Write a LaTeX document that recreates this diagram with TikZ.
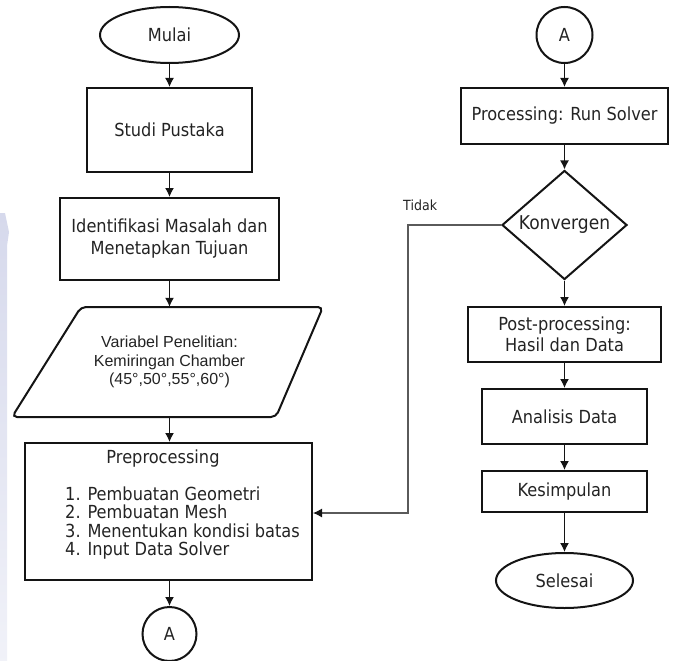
\documentclass[tikz,border=0pt]{standalone}
\usepackage{fontspec}
\usetikzlibrary{shapes.geometric,arrows.meta,calc}
\newfontfamily\tah{DejaVu Sans}[FakeStretch=0.9]
\newfontfamily\ari{Liberation Sans}
\definecolor{txt}{RGB}{35,35,35}
\definecolor{ln}{RGB}{20,20,20}
\definecolor{wm}{RGB}{214,217,236}
\definecolor{backln}{RGB}{90,90,90}
\begin{document}
\begin{tikzpicture}[x=1pt,y=-1pt,
  box/.style={draw=ln,line width=2pt,rectangle,inner sep=0pt,text=txt,font=\tah\fontsize{18}{21}\selectfont,align=center},
  term/.style={draw=ln,line width=2pt,ellipse,inner sep=0pt,text=txt,font=\tah\fontsize{18}{21}\selectfont},
  conn/.style={draw=ln,line width=2pt,circle,inner sep=0pt,text=txt,font=\tah\fontsize{18}{21}\selectfont},
  dec/.style={draw=ln,line width=2pt,diamond,inner sep=0pt,text=txt,font=\tah\fontsize{19}{22}\selectfont},
  plain/.style={inner sep=0pt,text=txt,font=\tah\fontsize{18}{21}\selectfont},
  arr/.style={draw=ln,line width=1.4pt,-{Latex[length=9pt,width=9pt]}},
  back/.style={draw=backln,line width=1.1pt,-{Latex[length=9pt,width=9pt,color=ln]}}
]
\useasboundingbox (0,0) rectangle (675,661);
% faint watermark band at left edge
\shade[top color=wm,bottom color=wm!35] (0,213) -- (5,213) -- (9,232) -- (7,246) -- (7,661) -- (0,661) -- cycle;

% left column
\node[term,minimum width=139,minimum height=56] (mulai) at (169.5,35) {Mulai};
\node[box,minimum width=165,minimum height=84] (studi) at (169.5,130) {Studi Pustaka};
\node[box,minimum width=219,minimum height=82] (ident) at (169.5,239) {Identifikasi Masalah dan\\[1pt]Menetapkan Tujuan};
\node[inner sep=0pt,minimum width=240,minimum height=110,text=txt,align=center,font=\ari\fontsize{16}{18.5}\selectfont] (var) at (169.5,362) {Variabel Penelitian:\\Kemiringan Chamber\\(45°,50°,55°,60°)};
\draw[ln,line width=2pt,rounded corners=5pt] (81,307) -- (323,307) -- (276,417) -- (12,417) -- cycle;
\node[box,minimum width=287,minimum height=137] (pre) at (168.5,511.5) {};
\node[plain,anchor=base] (pretitle) at (163,463) {Preprocessing};
\node[plain,anchor=base west] (l1) at (65,500) {1. Pembuatan Geometri};
\node[plain,anchor=base west] (l2) at (65,518.5) {2. Pembuatan Mesh};
\node[plain,anchor=base west] (l3) at (65,537) {3. Menentukan kondisi batas};
\node[plain,anchor=base west] (l4) at (65,555.5) {4. Input Data Solver};
\node[conn,minimum size=54] (a1) at (169.5,634) {A};

% right column
\node[conn,minimum size=56] (a2) at (564.5,35) {A};
\node[box,minimum width=207,minimum height=56] (proc) at (564.5,116) {Processing: Run Solver};
\node[dec,minimum width=125,minimum height=109] (konv) at (564.5,225) {Konvergen};
\node[box,minimum width=193,minimum height=55] (post) at (564.5,334.5) {Post-processing:\\Hasil dan Data};
\node[box,minimum width=165,minimum height=55] (anal) at (564.5,416.5) {Analisis Data};
\node[box,minimum width=165,minimum height=41] (kes) at (564.5,491.5) {Kesimpulan};
\node[term,minimum width=137,minimum height=55] (sel) at (564.5,580.5) {Selesai};
\node[inner sep=0pt,anchor=base west,text=txt,font=\tah\fontsize{14}{16}\selectfont] (tidak) at (403,210) {Tidak};

% connectors
\draw[arr] (mulai) -- (studi);
\draw[arr] (studi) -- (ident);
\draw[arr] (ident.south) -- (var.north);
\draw[arr] (var.south) -- (pre.north -| var.south);
\draw[arr] (pre.south -| a1.north) -- (a1);
\draw[arr] (a2) -- (proc);
\draw[arr] (proc) -- (konv);
\draw[arr] (konv) -- (post);
\draw[arr] (post) -- (anal);
\draw[arr] (anal) -- (kes);
\draw[arr] (kes) -- (sel);
\coordinate (bend) at (408,513);
\draw[back] (konv.west) -| (bend) -- (pre.east |- bend);
\end{tikzpicture}
\end{document}
